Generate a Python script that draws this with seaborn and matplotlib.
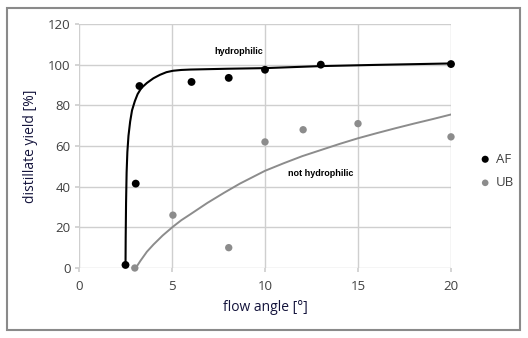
import matplotlib
matplotlib.use("Agg")
import matplotlib.pyplot as plt
import matplotlib.patches as mpatches
import seaborn as sns
import pandas as pd

# Measured distillate yield per flow angle
af_angle = [2.5, 3.05, 3.25, 6.05, 8.05, 10.0, 13.0, 20.0]
af_yield = [1.5, 41.5, 89.5, 91.5, 93.5, 97.5, 100.0, 100.3]
ub_angle = [3.0, 5.05, 8.05, 10.0, 12.05, 15.0, 20.0]
ub_yield = [0.0, 26.0, 10.0, 62.0, 68.0, 71.0, 64.5]

# Trend curves
af_trend_x = [2.5, 2.51, 2.53, 2.56, 2.6, 2.66, 2.75, 2.85, 3.0, 3.15, 3.35, 3.65, 4.0, 4.35,
              4.7, 5.05, 5.5, 6.0, 7.0, 8.0, 10.0, 13.0, 16.0, 20.0]
af_trend_y = [0.0, 15.0, 32.0, 47.0, 57.0, 65.0, 72.0, 77.5, 82.0, 85.5, 88.5, 91.0, 93.3, 95.0,
              96.3, 97.0, 97.4, 97.6, 97.8, 98.0, 98.3, 99.3, 99.9, 100.6]
ub_trend_x = [3.05, 3.3, 3.65, 4.0, 4.5, 5.05, 5.5, 6.0, 6.9, 7.8, 8.65, 10.0, 11.0, 12.0,
              13.0, 14.0, 15.0, 16.0, 17.0, 18.0, 19.0, 20.0]
ub_trend_y = [0.0, 3.5, 8.0, 11.5, 16.0, 20.3, 23.5, 26.5, 32.0, 37.0, 41.5, 47.8, 51.5, 55.0,
              58.0, 61.0, 63.8, 66.3, 68.7, 71.0, 73.2, 75.5]

x_ticks = [0, 5, 10, 15, 20]
y_ticks = [0, 20, 40, 60, 80, 100, 120]

sns.set_theme(style="white")
plt.rcParams["font.family"] = ["Open Sans", "DejaVu Sans"]

fig = plt.figure(figsize=(5.28, 3.38), dpi=100)
ax = fig.add_axes([79 / 528, 1 - 268 / 338, (451 - 79) / 528, (268 - 24) / 338])

grid_c = "#cfcfcf"
for yv in y_ticks:
    ax.axhline(yv, color=grid_c, lw=1.0, zorder=0)
for xv in x_ticks:
    ax.axvline(xv, color=grid_c, lw=1.0, zorder=0)

trend_af = pd.DataFrame({"x": af_trend_x, "y": af_trend_y})
trend_ub = pd.DataFrame({"x": ub_trend_x, "y": ub_trend_y})
sns.lineplot(data=trend_af, x="x", y="y", sort=False, estimator=None, color="black",
             lw=1.5, ax=ax, zorder=2)
sns.lineplot(data=trend_ub, x="x", y="y", sort=False, estimator=None, color="#8c8c8c",
             lw=1.4, ax=ax, zorder=2)

pts_af = pd.DataFrame({"x": af_angle, "y": af_yield})
pts_ub = pd.DataFrame({"x": ub_angle, "y": ub_yield})
sns.scatterplot(data=pts_af, x="x", y="y", color="black", s=32, edgecolor="none",
                ax=ax, zorder=3, clip_on=False, label="AF")
sns.scatterplot(data=pts_ub, x="x", y="y", color="#8c8c8c", s=28, edgecolor="none",
                ax=ax, zorder=3, clip_on=False, label="UB")

ax.set_xlim(0, 20)
ax.set_ylim(0, 120)
ax.set_xticks(x_ticks)
ax.set_yticks(y_ticks)
for s in ax.spines.values():
    s.set_visible(False)
ax.tick_params(axis="both", which="both", length=3, color=grid_c, labelsize=9.5,
               labelcolor="#404040", pad=3, left=True, bottom=True)
ax.tick_params(axis="x", pad=6)

txt_c = "#14143c"
ax.set_xlabel("flow angle [°]", fontsize=10, color=txt_c, labelpad=5)
ax.set_ylabel("distillate yield [%]", fontsize=10, color=txt_c, labelpad=7)

ax.text(8.6, 106.5, "hydrophilic", fontsize=6.5, fontweight="bold", ha="center",
        va="center", color="black", family="Liberation Sans")
ax.text(13.0, 46.5, "not hydrophilic", fontsize=6.5, fontweight="bold", ha="center",
        va="center", color="black", family="Liberation Sans")

ax.legend(loc="center left", bbox_to_anchor=(472 / 528, 1 - 171 / 338),
          bbox_transform=fig.transFigure, frameon=False, fontsize=9.5,
          handletextpad=-0.2, labelspacing=0.8, markerscale=0.9, borderaxespad=0,
          borderpad=0)
for t in ax.get_legend().get_texts():
    t.set_color("#404040")

fig.patches.append(mpatches.Rectangle((7 / 528, 1 - 330 / 338), (520 - 7) / 528, (330 - 8) / 338,
                                      transform=fig.transFigure, fill=False,
                                      edgecolor="#8a8a8a", lw=1.5))

fig.savefig("out.png", dpi=100)
